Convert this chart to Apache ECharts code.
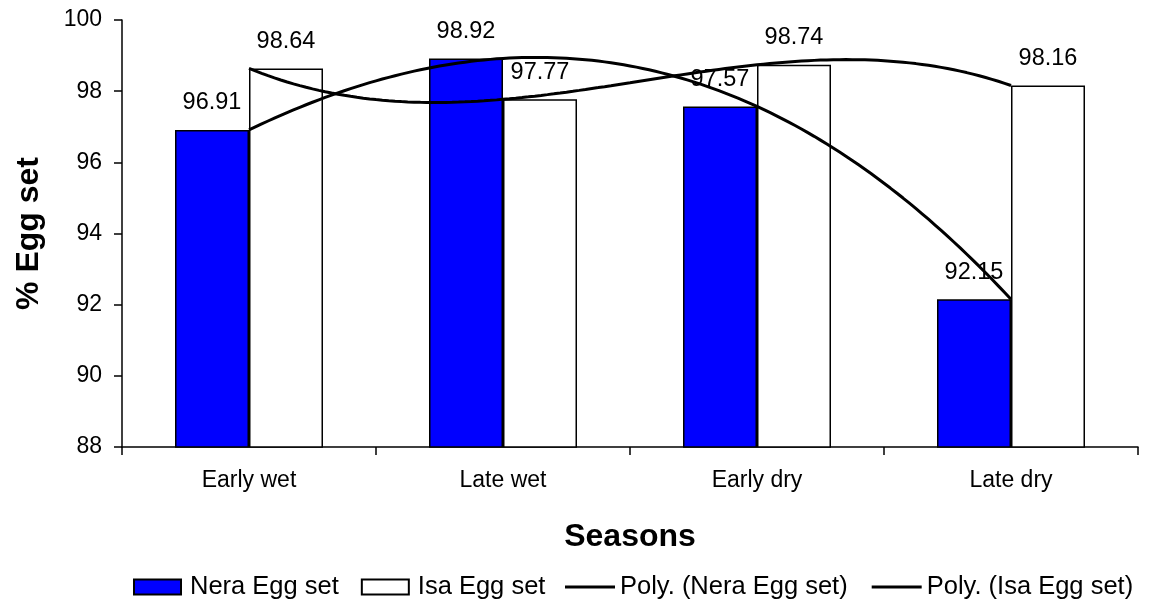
<!DOCTYPE html>
<html>
<head>
<meta charset="utf-8">
<title>% Egg set by season</title>
<script src="https://cdn.jsdelivr.net/npm/echarts@6/dist/echarts.min.js"></script>
<style>
  html, body { margin: 0; padding: 0; background: #ffffff; }
  #chart { width: 1149px; height: 605px; }
</style>
</head>
<body>
<div id="chart"></div>
<script>
// Seasons on the category axis
const seasons = ['Early wet', 'Late wet', 'Early dry', 'Late dry'];
// Egg set (%) per strain and season
const neraEggSet = [96.91, 98.92, 97.57, 92.15];
const isaEggSet = [98.64, 97.77, 98.74, 98.16];
// Value axis ticks
const yTicks = [88, 90, 92, 94, 96, 98, 100];

const FONT = "'Liberation Sans', Arial, sans-serif";

// Third-order polynomial least-squares fit (the "Poly." trendline),
// x taken as 1..n like a spreadsheet trendline.
function polyFit(ys, order) {
  const n = order + 1;
  const A = [];
  for (let r = 0; r < n; r++) {
    A.push(new Array(n + 1).fill(0));
  }
  ys.forEach((y, i) => {
    const x = i + 1;
    for (let r = 0; r < n; r++) {
      for (let c = 0; c < n; c++) A[r][c] += Math.pow(x, r + c);
      A[r][n] += y * Math.pow(x, r);
    }
  });
  // Gaussian elimination
  for (let p = 0; p < n; p++) {
    let best = p;
    for (let r = p + 1; r < n; r++) if (Math.abs(A[r][p]) > Math.abs(A[best][p])) best = r;
    [A[p], A[best]] = [A[best], A[p]];
    for (let r = 0; r < n; r++) {
      if (r === p) continue;
      const f = A[r][p] / A[p][p];
      for (let c = p; c <= n; c++) A[r][c] -= f * A[p][c];
    }
  }
  return A.map((row, i) => row[n] / row[i]);
}

function trendPoints(ys) {
  const coef = polyFit(ys, 3);
  const pts = [];
  const steps = 120;
  for (let s = 0; s <= steps; s++) {
    const idx = (ys.length - 1) * s / steps;
    const x = idx + 1;
    let v = 0;
    coef.forEach((c, k) => { v += c * Math.pow(x, k); });
    pts.push([idx, v]);
  }
  return pts;
}

const chart = echarts.init(document.getElementById('chart'), null, { renderer: 'canvas' });

const labelStyle = {
  show: true,
  position: 'top',
  distance: 15,
  color: '#000',
  fontFamily: FONT,
  fontSize: 23.5
};

chart.setOption({
  animation: false,
  backgroundColor: '#ffffff',
  grid: { left: 122, right: 11, top: 20, bottom: 158, containLabel: false },
  xAxis: [
    {
      type: 'category',
      data: seasons,
      boundaryGap: true,
      name: 'Seasons',
      nameLocation: 'middle',
      nameGap: 74,
      nameTextStyle: { fontFamily: FONT, fontSize: 32, fontWeight: 'bold', color: '#000' },
      axisLine: { show: true, lineStyle: { color: '#000', width: 1.5 } },
      axisTick: { show: true, length: 8, alignWithLabel: false, lineStyle: { color: '#000', width: 1.5 } },
      axisLabel: { margin: 22, color: '#000', fontFamily: FONT, fontSize: 23 },
      splitLine: { show: false }
    },
    {
      type: 'value',
      min: -0.5,
      max: seasons.length - 0.5,
      show: false,
      position: 'bottom'
    }
  ],
  yAxis: {
    type: 'value',
    min: yTicks[0],
    max: yTicks[yTicks.length - 1],
    interval: 2,
    name: '% Egg set',
    nameLocation: 'middle',
    nameGap: 77,
    nameRotate: 90,
    nameTextStyle: { fontFamily: FONT, fontSize: 32, fontWeight: 'bold', color: '#000' },
    axisLine: { show: true, onZero: false, lineStyle: { color: '#000', width: 1.5 } },
    axisTick: { show: true, length: 8, lineStyle: { color: '#000', width: 1.5 } },
    axisLabel: { margin: 20, color: '#000', fontFamily: FONT, fontSize: 23 },
    splitLine: { show: false }
  },
  legend: [
    {
      left: 128,
      top: 569,
      itemWidth: 47,
      itemHeight: 15,
      itemGap: 22,
      textStyle: { fontFamily: FONT, fontSize: 25.5, color: '#000', padding: [0, 0, 0, 4] },
      data: [
        { name: 'Nera Egg set', icon: 'rect' },
        { name: 'Isa Egg set', icon: 'rect' }
      ]
    },
    {
      left: 560,
      top: 569,
      itemWidth: 50,
      itemHeight: 3,
      itemGap: 24,
      textStyle: { fontFamily: FONT, fontSize: 25.5, color: '#000' },
      data: [
        { name: 'Poly. (Nera Egg set)', icon: 'rect', itemStyle: { color: '#000', borderWidth: 0 } },
        { name: 'Poly. (Isa Egg set)', icon: 'rect', itemStyle: { color: '#000', borderWidth: 0 } }
      ]
    }
  ],
  series: [
    {
      name: 'Nera Egg set',
      type: 'bar',
      data: neraEggSet,
      barWidth: 74,
      barGap: '0%',
      itemStyle: { color: '#0000ff', borderColor: '#000', borderWidth: 1.5 },
      label: labelStyle,
      z: 2
    },
    {
      name: 'Isa Egg set',
      type: 'bar',
      data: isaEggSet,
      barWidth: 74,
      barGap: '0%',
      itemStyle: { color: '#ffffff', borderColor: '#000', borderWidth: 1.5 },
      label: labelStyle,
      z: 2
    },
    {
      name: 'Poly. (Nera Egg set)',
      type: 'line',
      xAxisIndex: 1,
      data: trendPoints(neraEggSet),
      symbol: 'none',
      smooth: false,
      lineStyle: { color: '#000', width: 3 },
      itemStyle: { color: '#000' },
      z: 5
    },
    {
      name: 'Poly. (Isa Egg set)',
      type: 'line',
      xAxisIndex: 1,
      data: trendPoints(isaEggSet),
      symbol: 'none',
      smooth: false,
      lineStyle: { color: '#000', width: 3 },
      itemStyle: { color: '#000' },
      z: 5
    }
  ]
});
</script>
</body>
</html>
